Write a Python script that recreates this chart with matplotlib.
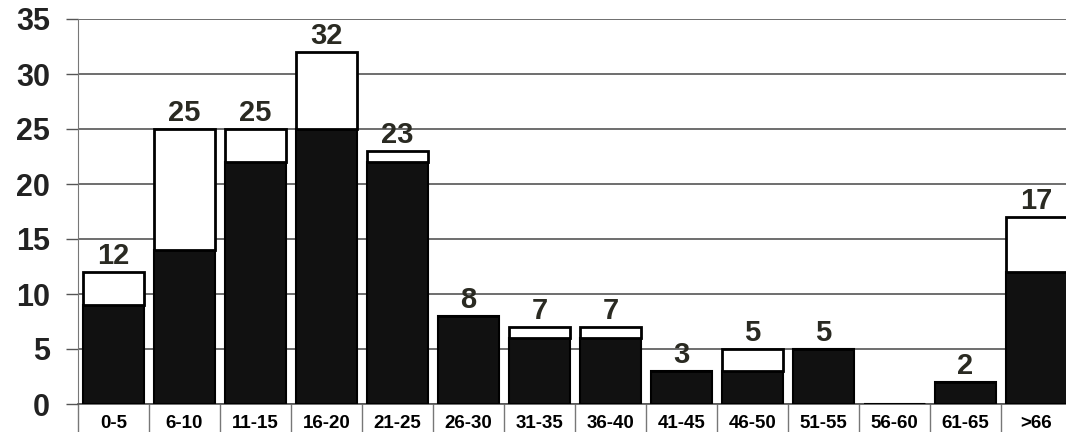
import matplotlib.pyplot as plt
import numpy as np

plt.rcParams['font.family'] = ['Liberation Sans', 'DejaVu Sans']

# age groups, black part (lower) and total count per group
groups = ["0-5", "6-10", "11-15", "16-20", "21-25", "26-30", "31-35",
          "36-40", "41-45", "46-50", "51-55", "56-60", "61-65", ">66"]
black_part = [9, 14, 22, 25, 22, 8, 6, 6, 3, 3, 5, 0, 2, 12]
totals = [12, 25, 25, 32, 23, 8, 7, 7, 3, 5, 5, 0, 2, 17]

white_part = [t - b for t, b in zip(totals, black_part)]
x = np.arange(len(groups))

fig = plt.figure(figsize=(10.66, 4.32), dpi=100)
ax = fig.add_axes([78 / 1066, 28 / 432, 994 / 1066, 385 / 432])

ax.bar(x, black_part, width=0.86, color="#111111", edgecolor="black",
       linewidth=1.5, zorder=3)
ax.bar(x, white_part, bottom=black_part, width=0.86, color="white",
       edgecolor="black", linewidth=2, zorder=3)

for xi, t in zip(x, totals):
    if t > 0:
        ax.text(xi, t + 0.15, str(t), ha="center", va="bottom",
                fontsize=21, fontweight="bold", color="#2a2a22", zorder=4)

ax.set_xlim(-0.5, len(groups) - 0.5)
ax.set_ylim(0, 35)
ax.set_yticks(range(0, 36, 5))
ax.grid(axis="y", color="#555555", linewidth=1.2, zorder=0)

ax.set_xticks(x)
ax.set_xticklabels(groups, fontsize=13.5, fontweight="bold")
ax.set_xticks(np.arange(len(groups) + 1) - 0.5, minor=True)
ax.tick_params(axis="x", which="major", length=0, pad=8)
ax.tick_params(axis="x", which="minor", length=22, width=1, color="#777777")
ax.tick_params(axis="y", length=9, width=1, color="#555555", pad=11,
               labelsize=22)
for lab in ax.get_yticklabels():
    lab.set_fontweight("bold")
    lab.set_color("#222222")

for side in ["top", "right"]:
    ax.spines[side].set_visible(False)
ax.spines["left"].set_color("#777777")
ax.spines["bottom"].set_color("#555555")
ax.spines["bottom"].set_linewidth(1.2)

fig.savefig("out.png", dpi=100)
